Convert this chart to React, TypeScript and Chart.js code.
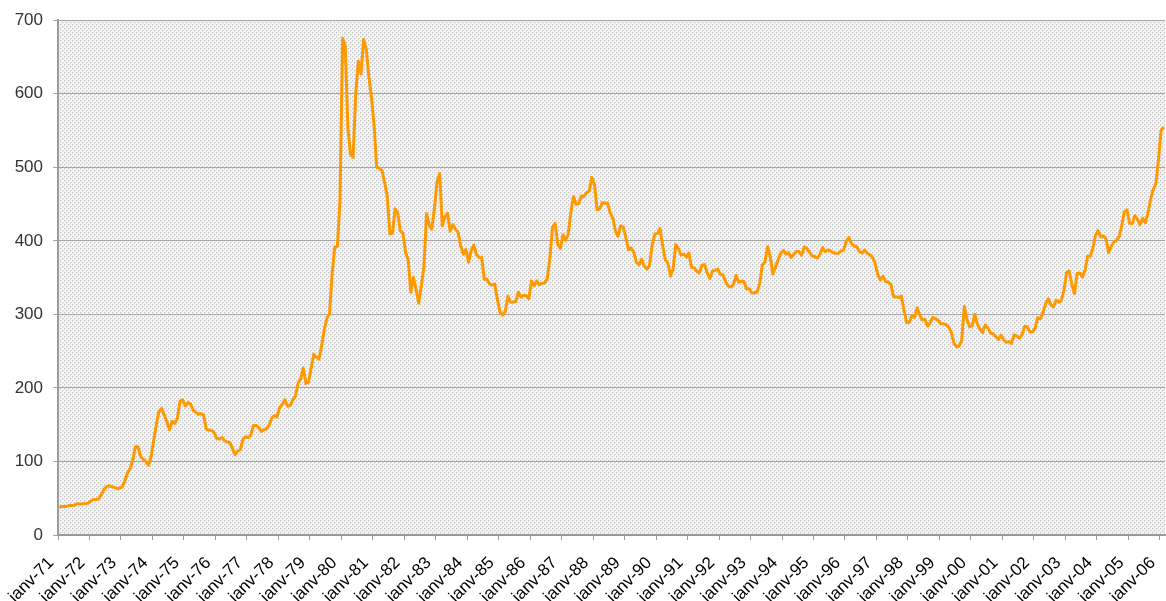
import React, { useEffect, useRef } from 'react';
import { Chart, registerables } from 'chart.js';

Chart.register(...registerables);

// Tick labels: one per January, from 1971 to 2006
const xLabels = [
  'janv-71', 'janv-72', 'janv-73', 'janv-74', 'janv-75', 'janv-76', 'janv-77', 'janv-78', 'janv-79',
  'janv-80', 'janv-81', 'janv-82', 'janv-83', 'janv-84', 'janv-85', 'janv-86', 'janv-87', 'janv-88', 'janv-89',
  'janv-90', 'janv-91', 'janv-92', 'janv-93', 'janv-94', 'janv-95', 'janv-96', 'janv-97', 'janv-98', 'janv-99',
  'janv-00', 'janv-01', 'janv-02', 'janv-03', 'janv-04', 'janv-05', 'janv-06',
];

// Monthly values, Jan 1971 – Dec 1979
const prices1970s = [
  37.9, 38.7, 38.9, 39.0, 40.5, 40.1, 41.0, 42.7, 42.0, 42.5, 42.9, 43.5,
  46.0, 48.3, 48.3, 49.0, 54.6, 62.1, 65.7, 67.0, 65.5, 64.9, 62.9, 63.9,
  65.1, 74.2, 84.4, 90.5, 102.0, 120.1, 120.0, 106.8, 103.0, 100.1, 94.8, 106.7,
  129.2, 150.2, 168.4, 172.2, 163.3, 154.1, 143.0, 154.6, 151.8, 158.8, 181.7, 183.9,
  175.8, 180.0, 178.2, 170.0, 167.0, 164.2, 165.2, 163.0, 144.1, 142.7, 142.2, 139.3,
  131.5, 130.6, 132.6, 128.2, 126.3, 125.9, 117.8, 109.3, 114.1, 116.0, 130.5, 133.7,
  132.3, 136.2, 148.5, 149.2, 146.7, 140.8, 143.4, 144.8, 149.6, 159.2, 162.5, 160.5,
  173.2, 178.0, 183.7, 175.1, 176.3, 183.7, 188.5, 206.1, 212.3, 227.2, 206.1, 207.8,
  227.3, 245.7, 242.1, 239.2, 257.6, 279.1, 294.7, 300.8, 355.1, 391.7, 392.5, 455.1,
];

// Monthly values, Jan 1980 – Dec 1989
const prices1980s = [
  675.3, 665.3, 553.6, 517.4, 513.8, 600.7, 644.3, 627.0, 673.6, 661.1, 623.5, 594.9,
  557.4, 500.0, 498.8, 495.8, 479.7, 460.8, 409.3, 410.1, 443.6, 437.8, 413.4, 410.1,
  384.1, 374.2, 330.2, 350.5, 334.0, 315.1, 339.0, 364.8, 436.9, 422.0, 415.9, 444.3,
  480.4, 491.5, 420.3, 432.9, 437.4, 413.0, 422.1, 416.0, 411.5, 393.4, 381.8, 388.1,
  370.9, 386.8, 394.2, 381.2, 377.6, 377.7, 347.8, 348.0, 341.1, 340.1, 341.2, 320.2,
  303.0, 299.1, 303.9, 324.8, 316.5, 316.7, 317.4, 330.2, 323.5, 326.0, 325.2, 321.4,
  345.4, 338.9, 345.7, 340.4, 342.5, 342.9, 348.5, 376.5, 418.0, 424.0, 395.4, 389.5,
  408.3, 401.0, 408.9, 438.4, 460.2, 449.6, 450.6, 460.9, 460.1, 465.3, 467.4, 486.3,
  476.7, 442.1, 443.6, 452.1, 451.0, 451.3, 437.4, 431.3, 413.0, 406.3, 420.2, 418.9,
  404.0, 388.0, 390.3, 384.3, 371.0, 367.6, 375.0, 365.4, 361.8, 366.9, 393.9, 409.2,
];

// Monthly values, Jan 1990 – Dec 1999
const prices1990s = [
  410.1, 416.8, 393.1, 374.3, 369.2, 352.3, 362.5, 395.1, 389.3, 380.7, 381.9, 378.2,
  383.6, 363.8, 363.3, 358.4, 356.8, 366.7, 367.7, 356.5, 348.7, 358.7, 359.9, 361.7,
  354.4, 353.9, 344.3, 338.6, 337.2, 340.8, 352.9, 343.4, 345.4, 344.4, 335.0, 334.8,
  329.0, 329.3, 330.1, 342.2, 367.2, 371.4, 392.0, 379.0, 355.0, 364.2, 373.8, 383.3,
  386.9, 382.0, 383.9, 377.3, 381.4, 385.6, 385.5, 380.4, 391.5, 389.8, 384.4, 379.3,
  378.6, 376.6, 382.1, 391.0, 385.2, 387.6, 386.2, 383.8, 383.1, 383.1, 386.1, 387.5,
  400.0, 404.8, 396.2, 392.9, 391.9, 385.3, 383.5, 387.5, 383.1, 381.1, 377.9, 369.3,
  354.1, 346.6, 351.8, 344.5, 343.8, 341.0, 324.1, 324.0, 322.8, 324.9, 306.0, 288.7,
  289.3, 297.6, 295.9, 308.6, 299.4, 292.3, 292.9, 284.1, 288.9, 296.1, 294.1, 291.6,
  287.3, 287.2, 286.0, 282.4, 276.4, 261.3, 256.1, 256.7, 264.7, 310.7, 293.2, 283.1,
];

// Monthly values, Jan 2000 – Feb 2006
const prices2000s = [
  284.3, 299.9, 286.4, 279.7, 275.3, 285.7, 281.6, 274.5, 273.7, 270.0, 266.0, 271.5,
  265.5, 261.9, 263.0, 260.5, 272.4, 270.2, 267.5, 272.4, 283.4, 283.1, 276.2, 275.9,
  281.7, 295.5, 294.0, 302.7, 314.5, 321.2, 313.3, 310.3, 319.2, 316.6, 319.2, 333.4,
  356.9, 358.9, 340.6, 328.2, 355.7, 356.4, 351.0, 359.8, 378.9, 378.9, 389.9, 407.6,
  414.0, 405.3, 406.7, 403.0, 383.8, 392.4, 398.1, 400.5, 405.3, 420.5, 439.4, 442.1,
  424.0, 423.4, 434.2, 429.2, 421.9, 430.7, 424.5, 437.9, 456.1, 469.9, 476.7, 509.8,
  549.9, 555.0,
];

const yTicks = [0, 100, 200, 300, 400, 500, 600, 700];

const allPrices = [...prices1970s, ...prices1980s, ...prices1990s, ...prices2000s];

const plotBgPlugin = {
  id: 'plotBg',
  beforeDraw(chart: any) {
    const { ctx, chartArea: a } = chart;
    const tile = document.createElement('canvas');
    tile.width = 4;
    tile.height = 4;
    const tc = tile.getContext('2d')!;
    tc.fillStyle = '#f5f5f5';
    tc.fillRect(0, 0, 4, 4);
    tc.fillStyle = '#e2e2e2';
    tc.fillRect(1, 0, 1, 1);
    tc.fillRect(0, 1, 1, 1);
    tc.fillRect(3, 2, 1, 1);
    tc.fillRect(2, 3, 1, 1);
    tc.fillStyle = '#c4c4c4';
    tc.fillRect(0, 0, 1, 1);
    tc.fillRect(2, 2, 1, 1);
    ctx.save();
    ctx.fillStyle = '#ffffff';
    ctx.fillRect(0, 0, chart.width, chart.height);
    const pat = ctx.createPattern(tile, 'repeat');
    if (pat) ctx.fillStyle = pat;
    ctx.fillRect(a.left, a.top, a.right - a.left, a.bottom - a.top);
    ctx.restore();
  },
};

export default function App() {
  const ref = useRef<HTMLCanvasElement | null>(null);

  useEffect(() => {
    if (!ref.current) return;
    const points = allPrices.map((v, i) => ({ x: i + 0.5, y: v }));
    const chart = new Chart(ref.current, {
      type: 'line',
      data: {
        datasets: [
          {
            data: points,
            borderColor: '#FF9900',
            borderWidth: 3,
            pointRadius: 0,
            tension: 0,
            fill: false,
            borderJoinStyle: 'round',
          },
        ],
      },
      options: {
        animation: false,
        responsive: false,
        events: [],
        layout: { padding: { top: 19, right: 1, left: 0, bottom: 0 } },
        plugins: { legend: { display: false }, tooltip: { enabled: false } },
        scales: {
          x: {
            type: 'linear',
            min: 0,
            max: 422,
            afterFit: (s: any) => {
              s.height = 66;
              s.paddingRight = 0;
              s.paddingLeft = 0;
            },
            ticks: {
              stepSize: 12,
              autoSkip: false,
              includeBounds: false,
              minRotation: 45,
              maxRotation: 45,
              padding: 13,
              labelOffset: -7,
              color: '#000',
              font: { family: 'Liberation Sans, Arial, sans-serif', size: 17 },
              callback: (v: any) => {
                const idx = Math.round(Number(v) / 12);
                return xLabels[idx] ?? '';
              },
            },
            grid: { drawOnChartArea: false, drawTicks: true, tickLength: 5, color: '#9a9a9a' },
            border: { color: '#9a9a9a', width: 2 },
          },
          y: {
            min: 0,
            max: 700,
            afterFit: (s: any) => {
              s.width = 58;
            },
            afterBuildTicks: (s: any) => {
              s.ticks = yTicks.map((v) => ({ value: v }));
            },
            ticks: {
              padding: 10,
              color: '#333',
              font: { family: 'Liberation Sans, Arial, sans-serif', size: 17 },
            },
            grid: { color: '#a6a6a6', tickLength: 5, lineWidth: 1 },
            border: { color: '#9a9a9a', width: 2 },
          },
        },
      },
      plugins: [plotBgPlugin],
    } as any);
    return () => chart.destroy();
  }, []);

  return (
    <div style={{ position: 'absolute', left: 0, top: 0, width: 1166, height: 601 }}>
      <canvas ref={ref} width={1166} height={601} style={{ display: 'block' }} />
    </div>
  );
}
